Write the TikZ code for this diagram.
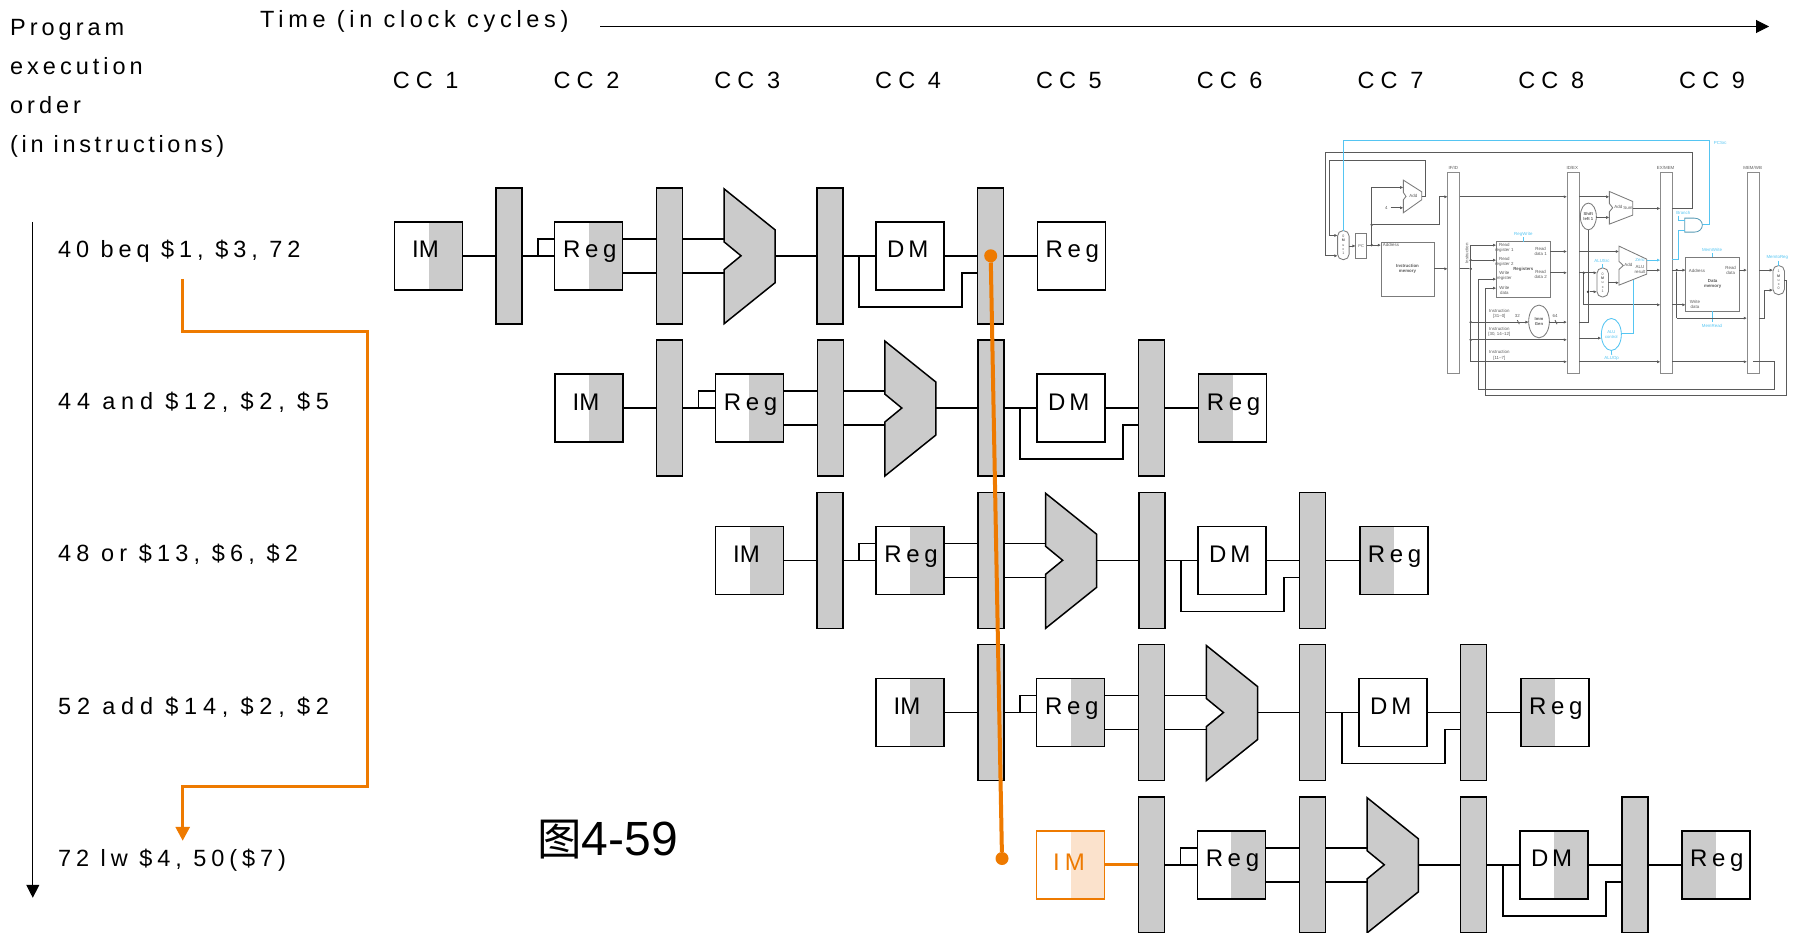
\documentclass[tikz,border=0pt]{standalone}
\usepackage{fontspec}
\usetikzlibrary{arrows.meta,calc,shapes.geometric}
\setmainfont{Liberation Sans}
\newfontfamily\spc[LetterSpace=17]{Liberation Sans}
\newfontfamily\nspc[LetterSpace=15.5]{Liberation Sans}
\newfontfamily\ispc[LetterSpace=21]{Liberation Sans}
\newfontfamily\jspc[LetterSpace=22]{Liberation Sans}
\newfontfamily\kspc[LetterSpace=24.5]{Liberation Sans}
\newfontfamily\tspc[LetterSpace=20]{Liberation Sans}
\newfontfamily\cspc[LetterSpace=26]{Liberation Sans}
\newfontfamily\dspc[LetterSpace=16]{Liberation Sans}
\newfontfamily\rspc[LetterSpace=19.5]{Liberation Sans}
\newfontfamily\cjk{Noto Sans CJK SC}
\definecolor{orng}{HTML}{EE7A00}
\definecolor{lorng}{HTML}{FBE2CC}
\definecolor{gry}{HTML}{CBCBCB}
\definecolor{inl}{HTML}{5A5A5A}
\definecolor{inb}{HTML}{55C5F2}
\newcounter{ilc}
\tikzset{
  wire/.style={line width=1.5pt,black},
  txt/.style={anchor=base west,inner sep=0pt,font=\fontsize{23.5}{28}\selectfont\spc},
  instr/.style={anchor=base west,inner sep=0pt,font=\fontsize{23.5}{28}\selectfont\ispc},
  timelab/.style={anchor=base west,inner sep=0pt,font=\fontsize{23.5}{28}\selectfont\tspc},
  cclab/.style={anchor=base west,inner sep=0pt,font=\fontsize{23.5}{28}\selectfont\cspc},
  boxlab/.style={anchor=base west,inner sep=0pt,font=\fontsize{24}{28}\selectfont\dspc},
  reglab/.style={anchor=base west,inner sep=0pt,font=\fontsize{24}{28}\selectfont\rspc},
  unit/.style={draw=black,line width=1.5pt,fill=white,minimum width=68pt,minimum height=68pt,inner sep=0pt,outer sep=0pt},
  halfr/.style={path picture={\fill[#1] (path picture bounding box.south) rectangle (path picture bounding box.north east);}},
  halfl/.style={path picture={\fill[#1] (path picture bounding box.south west) rectangle (path picture bounding box.north);}},
  plainunit/.style={},
  pbar/.style={draw=black,line width=1.5pt,fill=gry,minimum width=26pt,minimum height=136pt,inner sep=0pt,outer sep=0pt},
  alu/.style={draw=black,line width=1.5pt,fill=gry,line join=miter},
  orline/.style={draw=orng,line width=3pt},
  odot/.style={circle,fill=orng,minimum size=13pt,inner sep=0pt},
  axis/.style={line width=1pt,black,-{Triangle[width=13pt,length=13pt]}},
  iw/.style={draw=inl,line width=0.8pt},
  iwa/.style={iw,-{Latex[length=3.2pt,width=3pt]}},
  ib/.style={draw=inb,line width=0.8pt},
  iba/.style={ib,-{Latex[length=3.2pt,width=3pt]}},
  ibox/.style={draw=inl!80,line width=0.85pt,fill=white,inner sep=0pt,outer sep=0pt},
  ibar/.style={ibox,draw=inl!70,minimum width=12pt,minimum height=200.7pt},
  imux/.style={ibox,rounded corners=5.4pt,minimum width=11.5pt,minimum height=29pt,align=center,font=\fontsize{3.6}{4.3}\selectfont\color{inl}},
  iell/.style={ibox,ellipse,align=center,font=\fontsize{4.2}{5}\selectfont\bfseries\color{inl}},
  idot/.style={circle,fill=black!80,minimum size=2.6pt,inner sep=0pt},
  ilabel/.style={inner sep=0pt,align=center,text=inl,font=\fontsize{4.4}{5.2}\selectfont},
  iblabel/.style={ilabel,text=inb},
}
\newcommand\il[3][]{\stepcounter{ilc}\node[ilabel,#1] (il\theilc) at (#2) {#3};}
\newcommand\ilb[3][]{\stepcounter{ilc}\node[iblabel,#1] (il\theilc) at (#2) {#3};}
% #1 row number, #2 style of IM, #3 style of DM, #4 style of last Reg, #5 IM label, #6 style of IM wire
\newcommand\pipe[6]{%
\pgfmathsetmacro\xstretch{1+0.001*(#1-1)}%
\begin{scope}[shift={({(160.5-0.4287)*(#1-1)},{152.25*(#1-1)})},x=\xstretch pt]
  \node[unit,#2] (im#1) at (428.7,255) {};
  \node[pbar] (ba#1) at (509,255) {};
  \node[unit,halfr=gry] (rd#1) at (588.7,255) {};
  \node[pbar] (bb#1) at (669.5,255) {};
  \coordinate (ai#1) at (724,238);
  \coordinate (aj#1) at (724,272);
  \coordinate (ao#1) at (775,255);
  \draw[alu] (724,188) -- (775,229) -- (ao#1) -- (775,282) -- (724,323) -- (aj#1) -- (724,269) -- (741,255) -- (724,241) -- cycle;
  \node[pbar] (bc#1) at (830,255) {};
  \node[unit,#3] (dm#1) at (910,255) {};
  \node[pbar] (bd#1) at (990.5,255) {};
  \node[unit,#4] (wb#1) at (1071.5,255) {};
  #5
  \node[reglab] (rdl#1) at (563,257) {Reg};
  \node[boxlab] (dml#1) at (887,257) {DM};
  \node[reglab] (wbl#1) at (1045.5,257) {Reg};
  \coordinate (st#1) at (538,255);
  \coordinate (sa#1) at (538,238);
  \coordinate (sb#1) at (859,255);
  \coordinate (sc#1) at (859,306);
  \coordinate (sd#1) at (962,306);
  \coordinate (se#1) at (962,272);
  \draw[#6] (im#1.east) -- (ba#1.west);
  \draw[wire] (ba#1.east) -- (rd#1.west);
  \draw[wire] (st#1) -- (sa#1) -- (rd#1.west |- sa#1);
  \draw[wire] (rd#1.east |- sa#1) -- (bb#1.west |- sa#1);
  \draw[wire] (rd#1.east |- aj#1) -- (bb#1.west |- aj#1);
  \draw[wire] (bb#1.east |- ai#1) -- (ai#1);
  \draw[wire] (bb#1.east |- aj#1) -- (aj#1);
  \draw[wire] (ao#1) -- (bc#1.west |- ao#1);
  \draw[wire] (bc#1.east) -- (dm#1.west);
  \draw[wire] (dm#1.east) -- (bd#1.west);
  \draw[wire] (sb#1) -- (sc#1) -- (sd#1) -- (se#1) -- (bd#1.west |- se#1);
  \draw[wire] (bd#1.east) -- (wb#1.west);
\end{scope}}
\newcommand\imblack[1]{\node[anchor=base west,inner sep=0pt,font=\fontsize{24}{28}\selectfont] (iml#1) at (412,257) {IM};}
\begin{document}
\begin{tikzpicture}[x=1pt,y=-1pt]
\useasboundingbox (0,-0.8) rectangle (1800,932.2);
% header texts
\node[txt] (t1) at (10,35) {Program};
\node[txt] (t2) at (10,74) {execution};
\node[txt] (t3) at (10,113) {order};
\node[txt,font=\fontsize{23.5}{28}\selectfont\nspc] (t4) at (10,151.7) {(in instructions)};
\node[timelab] (time) at (260,27) {Time (in clock cycles)};
\coordinate (timeS) at (600,25.7);
\coordinate (timeE) at (1769,25.7);
\draw[axis] (timeS) -- (timeE);
\foreach \n in {1,...,9} \node[cclab] (cc\n) at ({392.6+160.8*(\n-1)},87.7) {CC \n};
% axis
\coordinate (axS) at (32.8,221);
\coordinate (axE) at (32.8,897);
\draw[axis] (axS) -- (axE);
% rows
\node[instr] (i1) at (58,257) {40 beq \$1, \$3, 72};
\node[instr,font=\fontsize{23.5}{28}\selectfont\kspc] (i2) at (58,409) {44 and \$12, \$2, \$5};
\node[instr,font=\fontsize{23.5}{28}\selectfont\jspc] (i3) at (58,561) {48 or \$13, \$6, \$2};
\node[instr,font=\fontsize{23.5}{28}\selectfont\kspc] (i4) at (58,714) {52 add \$14, \$2, \$2};
\node[instr] (i5) at (58,866) {72 lw \$4, 50(\$7)};
\node[anchor=base west,inner sep=0pt,font=\fontsize{48}{50}\selectfont] (fig) at (537,855) {{\fontsize{44.5}{50}\selectfont\cjk 图}4-59};
\pipe{1}{halfr=gry}{plainunit}{plainunit}{\imblack{1}}{wire}
\pipe{2}{halfr=gry}{plainunit}{halfl=gry}{\imblack{2}}{wire}
\pipe{3}{halfr=gry}{plainunit}{halfl=gry}{\imblack{3}}{wire}
\pipe{4}{halfr=gry}{plainunit}{halfl=gry}{\imblack{4}}{wire}
\pipe{5}{draw=orng,halfr=lorng}{halfr=gry}{halfl=gry}{\node[anchor=base west,inner sep=0pt,text=orng,font=\fontsize{24}{28}\selectfont\ispc] (iml5) at (411,261) {IM};}{orline}
% orange overlays
\coordinate (brS) at (182.7,278);
\coordinate (brA) at (367,331);
\coordinate (brB) at (367,786);
\coordinate (brE) at (182.7,840);
\draw[orline,line join=miter,-{Triangle[width=14pt,length=14pt]}] (brS) |- (brA) -- (brB) -| (brE);
\node[odot] (dotA) at (990.7,255) {};
\node[odot] (dotB) at (1002,857.7) {};
\draw[draw=orng,line width=4pt] (dotA) -- (dotB);
% inset datapath
\begin{scope}[shift={(1300,130)},x=0.33333pt,y=-0.33333pt]
  \node[ibar] (ifid) at (461,426) {};
  \node[ibar] (idex) at (819,426) {};
  \node[ibar] (exmem) at (1099,426) {};
  \node[ibar] (memwb) at (1359,426) {};
  \il{460,110}{IF/ID}\il{817,110}{ID/EX}\il{1097,110}{EX/MEM}\il{1358,110}{MEM/WB}
  \node[imux] (mA) at (130,343) {0\\[-0.2pt]\textbf{M}\\u\\x\\1};
  \node[ibox,minimum width=11pt,minimum height=25pt,font=\fontsize{4}{4.8}\selectfont\color{inl}] (pc) at (183.5,345.5) {PC};
  \node[ibox,minimum width=53pt,minimum height=54pt,align=center,font=\fontsize{4.4}{5.4}\selectfont\bfseries\color{inl}] (imem) at (322.5,415) {Instruction\\memory};
  \il{273,343}{Address}
  \coordinate (addA) at (365,196);
  \draw[ibox] (310,148) -- (365,183) -- (addA) -- (365,207) -- (310,246) -- (310,207) -- (318,197) -- (310,185) -- cycle;
  \il{340,194}{Add}
  \il{259,231}{4}
  \coordinate (four) at (272,231);
  \draw[iwa] (four) -- (310,231);
  % PC wires
  \node[idot] (dPC) at (215,343) {};
  \node[idot] (dUp) at (215,282) {};
  \draw[iwa] (mA.east |- pc.west) -- (pc.west);
  \draw[iwa] (pc.east |- dPC) -- (imem.west |- dPC);
  \draw[iwa] (dPC) -- (215,170) -- (310,170);
  \draw[iwa] (dUp) -- (417,282) -- (417,198) -- (ifid.west |- 0,198);
  \draw[iwa] (addA) -- (375,196) -- (375,88) -- (88,88) -- (88,314) -- (mA.west |- 0,314);
  \draw[iwa] (exmem.east |- 0,233) -- (1176,233) -- (1176,66) -- (76,66) -- (76,375) -- (mA.west |- 0,375);
  \draw[iwa] (imem.east |- 0,414) -- (ifid.west |- 0,414);
  \draw[ib] (mA.north -| 131,0) -- (131,30) -- (1229,30) -- (1229,282) -- (1207,282);
  \ilb{1261,37}{PCSrc}
  % registers
  \node[ibox,minimum width=53.7pt,minimum height=55.7pt] (regs) at (669.5,416.5) {};
  \il{613,352}{Read\\register 1}\il{613,393}{Read\\register 2}\il{613,436}{Write\\register}\il{613,478}{Write\\data}
  \il{722,361}{Read\\data 1}\il{722,432}{Read\\data 2}
  \il[font=\fontsize{4.4}{5.2}\selectfont\bfseries]{670,415}{Registers}
  \il[rotate=90]{500,368}{Instruction}
  \ilb{670,311}{RegWrite}
  \draw[ib] (670,320) -- (regs.north -| 670,0);
  \node[idot] (d1) at (512,388) {};
  \node[idot] (d2) at (512,414) {};
  \node[idot] (d3) at (512,574) {};
  \node[idot] (d4) at (512,627) {};
  \draw[iw] (ifid.east |- d2) -- (d2);
  \draw[iw] (512,343) -- (512,693);
  \draw[iwa] (512,343) -- (regs.west |- 0,343);
  \draw[iwa] (d1) -- (regs.west |- d1);
  % imm gen
  \node[iell,minimum width=20.7pt,minimum height=32.7pt,inner sep=0pt] (imm) at (717,572) {Imm\\Gen};
  \draw[iwa] (d3) -- (imm.west |- d3);
  \draw[iwa] (imm.east |- d3) -- (idex.west |- d3);
  \draw[iwa] (d4) -- (idex.west |- d4);
  \draw[iwa] (512,693) -- (idex.west |- 0,693);
  \il{598,550}{Instruction\\{[31--0]}}\il{598,604}{Instruction\\{[30, 14--12]}}\il{598,674}{Instruction\\{[11--7]}}
  \il{652,557}{32}\il{765,557}{64}
  \draw[iw] (652,568) -- (658,580); \draw[iw] (765,568) -- (771,580);
  % ID/EX forwards
  \draw[iwa] (ifid.east |- 0,198) -- (idex.west |- 0,198);
  \draw[iwa] (regs.east |- 0,362) -- (idex.west |- 0,362);
  \draw[iwa] (regs.east |- 0,426) -- (idex.west |- 0,426);
  \coordinate (aA) at (998,233);
  \draw[ibox] (928,182) -- (998,212) -- (aA) -- (998,253) -- (928,280) -- (928,243) -- (938,231) -- (928,218) -- cycle;
  \il{955,229}{Add}\il{984,231}{Sum}
  \node[iell,minimum width=16pt,minimum height=26.7pt,inner sep=0pt] (sl) at (865,257) {Shift\\left 1};
  \draw[iwa] (idex.east |- 0,198) -- (928,198);
  \draw[iwa] (sl.east |- 0,260) -- (928,260);
  \draw[iw] (idex.east |- d3) -- (864,574) -- (sl.south -| 864,0);
  \draw[iwa] (aA) -- (exmem.west |- aA);
  \coordinate (alO) at (1040,418);
  \draw[ibox] (957,346) -- (1040,385) -- (alO) -- (1040,430) -- (957,463) -- (957,416) -- (970,404) -- (957,392) -- cycle;
  \il{985,402}{Add}\il{1020,415}{ALU\\result}
  \ilb{1020,388}{Zero}
  \node[imux] (mB) at (908,455) {0\\\textbf{M}\\u\\x\\1};
  \ilb{906,392}{ALUSrc}
  \draw[ib] (908,400) -- (mB.north -| 908,0);
  \node[idot] (d5) at (851,426) {};
  \node[idot] (d6) at (864,483) {};
  \draw[iwa] (idex.east |- d5) -- (mB.west |- d5);
  \draw[iwa] (d6) -- (mB.west |- d6);
  \draw[iw] (d5) -- (851,522);
  \draw[iwa] (851,522) -- (exmem.west |- 0,522);
  \draw[iwa] (idex.east |- 0,362) -- (957,362);
  \draw[iwa] (mB.east |- 0,456) -- (957,456);
  \draw[iwa] (alO) -- (exmem.west |- alO);
  \draw[iba] (1040,388) -- (exmem.west |- 0,388);
  % ALU control
  \node[ibox,ellipse,draw=inb,minimum width=20pt,minimum height=32pt,inner sep=0pt,align=center,text=inb,font=\fontsize{4.2}{5}\selectfont] (ctl) at (934,611) {ALU\\control};
  \draw[iwa] (idex.east |- 0,622) -- (ctl.west |- 0,622);
  \draw[ib] (ctl.east |- 0,609) -- (1001,609) -- (1001,448);
  \ilb{935,682}{ALUOp}
  \draw[ib] (ctl.south) -- (935,672);
  % lower wires
  \draw[iwa] (idex.east |- 0,693) -- (exmem.west |- 0,693);
  \draw[iwa] (exmem.east |- 0,693) -- (memwb.west |- 0,693);
  \draw[iw] (memwb.center |- 0,693) -- (1423,693) -- (1423,775) -- (535,775) -- (535,445);
  \draw[iwa] (535,445) -- (regs.west |- 0,445);
  % data memory
  \node[ibox,minimum width=53.7pt,minimum height=54pt] (dmem) at (1237.5,461) {};
  \il{1191,420}{Address}\il{1292,418}{Read\\data}\il[font=\fontsize{4.4}{5.2}\selectfont\bfseries]{1238,460}{Data\\memory}\il{1185,520}{Write\\data}
  \ilb{1236,358}{MemWrite}\ilb{1236,585}{MemRead}
  \draw[ib] (1236,368) -- (dmem.north -| 1236,0);
  \draw[ib] (dmem.south -| 1236,0) -- (1236,575);
  \node[idot] (d7) at (1130,418) {};
  \draw[iwa] (exmem.east |- d7) -- (dmem.west |- d7);
  \draw[iw] (d7) -- (1130,562);
  \draw[iwa] (1130,562) -- (memwb.west |- 0,562);
  \draw[iwa] (exmem.east |- 0,522) -- (dmem.west |- 0,522);
  \draw[iwa] (dmem.east |- 0,418) -- (memwb.west |- 0,418);
  % AND gate
  \draw[ib,draw=inl!40!inb,fill=white] (1154,262) -- (1183,262) .. controls (1198,262) and (1207,272) .. (1207,283) .. controls (1207,294) and (1198,304) .. (1183,304) -- (1154,304) -- cycle;
  \ilb{1150,247}{Branch}
  \draw[ib] (1135,255) -- (1135,270) -- (1154,270);
  \draw[ib] (exmem.east |- 0,386) -- (1135,386) -- (1135,300) -- (1154,300);
  % mux 3
  \node[imux] (mC) at (1436,448) {1\\\textbf{M}\\u\\x\\0};
  \ilb{1432,380}{MemtoReg}
  \draw[ib] (1436,390) -- (mC.north -| 1436,0);
  \draw[iwa] (memwb.east |- 0,418) -- (mC.west |- 0,418);
  \draw[iwa] (memwb.east |- 0,562) -- (1392,562) -- (1392,478) -- (mC.west |- 0,478);
  \draw[iw] (mC.east |- 0,450) -- (1460,450) -- (1460,794) -- (557,794) -- (557,472);
  \draw[iwa] (557,472) -- (regs.west |- 0,472);
\end{scope}
\end{tikzpicture}
\end{document}
